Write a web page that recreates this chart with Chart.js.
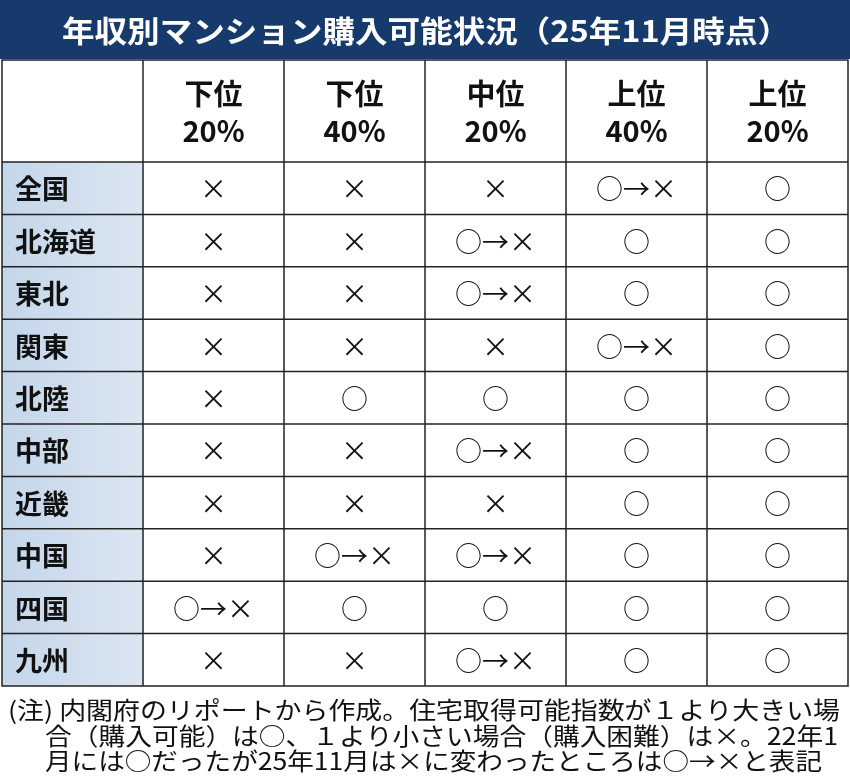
<!DOCTYPE html>
<html><head><meta charset="utf-8">
<script src="https://cdn.jsdelivr.net/npm/chart.js@4"></script>
<style>html,body{margin:0;padding:0;background:#fff}#w{width:850px;height:784px;position:relative}</style>
</head><body><div id="w"><canvas id="c"></canvas></div>
<script>
const title = "年収別マンション購入可能状況（25年11月時点）";
const columns = ["", "下位\n20%", "下位\n40%", "中位\n20%", "上位\n40%", "上位\n20%"];
const regions = ["全国","北海道","東北","関東","北陸","中部","近畿","中国","四国","九州"];
const X = "×", O = "○", OX = "○→×";
const low20  = [X,X,X,X,X,X,X,X,OX,X];
const low40  = [X,X,X,X,O,X,X,OX,O,X];
const mid20  = [X,OX,OX,X,O,OX,X,OX,O,OX];
const up40   = [OX,O,O,OX,O,O,O,O,O,O];
const up20   = [O,O,O,O,O,O,O,O,O,O];
const notes = ["(注) 内閣府のリポートから作成。住宅取得可能指数が１より大きい場",
               "合（購入可能）は○、１より小さい場合（購入困難）は×。22年1",
               "月には○だったが25年11月は×に変わったところは○→×と表記"];
const series = [low20, low40, mid20, up40, up20];
const pts = [];
regions.forEach((r,i)=>{ pts.push({x:"", y:r, t:r, head:true});
  series.forEach((s,j)=>pts.push({x:columns[j+1], y:r, t:s[i]})); });
const F = '"Noto Sans CJK JP", "Noto Sans", sans-serif';
function fitText(ctx, t, x0, y0, w){
  const m = ctx.measureText(t).width; ctx.save(); ctx.translate(x0,y0); ctx.scale(w/m,1);
  ctx.fillText(t,0,0); ctx.restore();
}
const tablePlugin = {
  id:'table',
  beforeDatasetsDraw(chart){
    const {ctx, chartArea:a, scales:{x,y}} = chart;
    ctx.save();
    ctx.fillStyle = '#173a6c'; ctx.fillRect(0,0,850,a.top-103);
    ctx.fillStyle = '#fff'; ctx.font = 'bold 30px '+F; ctx.textAlign='left'; ctx.textBaseline='middle';
    fitText(ctx, title, 62, (a.top-103)/2+1, 728);
    ctx.textAlign='center';
    const hw = (x.getPixelForValue(columns[1]) - x.getPixelForValue(columns[0]));
    const hh = (y.getPixelForValue(regions[1]) - y.getPixelForValue(regions[0]));
    const headTop = a.top-102;
    const g = ctx.createLinearGradient(a.left,0,a.left+hw,0);
    g.addColorStop(0,'#c4d6ea'); g.addColorStop(1,'#dbe6f2');
    ctx.fillStyle = g; ctx.fillRect(a.left, a.top, hw, a.bottom-a.top);
    ctx.strokeStyle = '#222'; ctx.lineWidth = 1.5;
    ctx.strokeRect(a.left, headTop, a.right-a.left, a.bottom-headTop);
    columns.forEach((c,i)=>{ if(i===0) return; const px = x.getPixelForValue(c)-hw/2;
      ctx.beginPath(); ctx.moveTo(px,headTop); ctx.lineTo(px,a.bottom); ctx.stroke(); });
    regions.forEach(r=>{ const py = y.getPixelForValue(r)-hh/2;
      ctx.beginPath(); ctx.moveTo(a.left,py); ctx.lineTo(a.right,py); ctx.stroke(); });
    ctx.fillStyle = '#111'; ctx.font = 'bold 29px '+F;
    columns.forEach(c=>{ if(!c) return; const ls=c.split('\n'); const px=x.getPixelForValue(c);
      ctx.fillText(ls[0], px, headTop+34); ctx.fillText(ls[1], px, headTop+71); });
    chart.data.datasets[0].data.forEach(p=>{
      const px = x.getPixelForValue(p.x), py = y.getPixelForValue(p.y);
      if(p.head){ ctx.font='bold 27px '+F; ctx.textAlign='left'; ctx.fillText(p.t, a.left+13, py+1); }
      else { ctx.font='27px '+F; ctx.textAlign='center'; ctx.fillText(p.t, px, py+1); }
    });
    ctx.font = '24px '+F; ctx.textAlign='left'; ctx.fillStyle='#111';
    fitText(ctx, notes[0], 8, 710, 832);
    fitText(ctx, notes[1], 45, 736, 793);
    fitText(ctx, notes[2], 45, 761, 777);
    ctx.restore();
  }
};
new Chart(document.getElementById('c'), {
  type:'scatter',
  data:{datasets:[{data:pts, pointRadius:0}]},
  options:{responsive:true, maintainAspectRatio:false, animation:false,
    layout:{padding:{left:2,right:2,top:162,bottom:98}},
    plugins:{legend:{display:false}, tooltip:{enabled:false}},
    scales:{
      x:{type:'category', labels:columns, offset:true, display:false},
      y:{type:'category', labels:regions, offset:true, display:false}
    }},
  plugins:[tablePlugin]
});
</script></body></html>
